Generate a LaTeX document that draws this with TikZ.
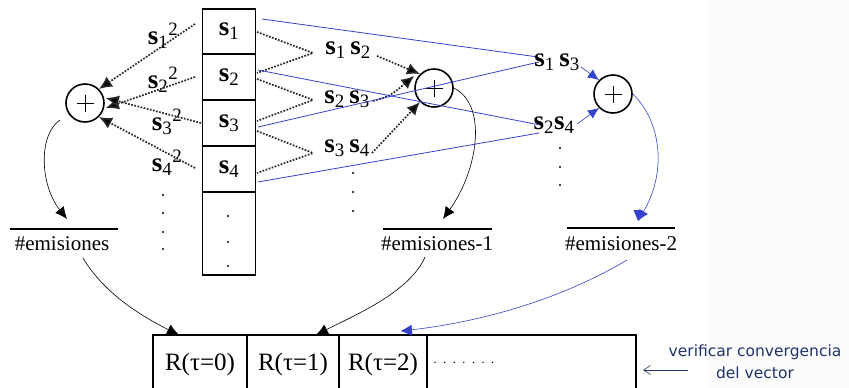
\documentclass[tikz,border=0pt]{standalone}
\usepackage{amsmath}
\usepackage{fontspec}
\setmainfont{Liberation Serif}
\newfontfamily\notefont{DejaVu Sans}
\usetikzlibrary{arrows.meta}
\definecolor{lblue}{RGB}{52,66,204}
\definecolor{navy}{RGB}{30,52,105}
\newcommand{\sv}[1]{$\textbf{s}_{\text{#1}}$}
\newcommand{\sq}[1]{$\textbf{s}_{\text{#1}}{}^{\text{2}}$}
\begin{document}
\begin{tikzpicture}[x=1pt,y=-1pt,
  cell/.style={draw,line width=1.8pt,minimum width=53pt,inner sep=0pt},
  slab/.style={font=\fontsize{27}{30}\selectfont,inner sep=0pt},
  sumnode/.style={draw,circle,line width=1.6pt,minimum size=38pt,inner sep=0pt},
  dotline/.style={line width=1.7pt,dash pattern=on 1.7pt off 1.5pt,draw=black!85},
  blk/.style={-{Latex[length=12pt,width=11pt]},line width=0.6pt},
  dblk/.style={-{Latex[length=13pt,width=12pt,fill=black]}},
  blu/.style={-{Latex[length=11pt,width=10pt]},line width=0.6pt,draw=lblue,fill=lblue},
  bluln/.style={draw=lblue,line width=0.8pt},
  frac/.style={font=\fontsize{21}{24}\selectfont,inner sep=0pt},
  rtxt/.style={font=\fontsize{25}{28}\selectfont,inner sep=0pt},
  dotpt/.style={fill=black,circle,inner sep=0pt,minimum size=2.4pt}]
\clip (0,0) rectangle (849,388);
\fill[gray!2] (707,0) rectangle (849,388);

% vector cells
\node[cell,minimum height=45pt,slab] (c1) at (229,31.5) {\sv{1}};
\node[cell,minimum height=46pt,slab] (c2) at (229,77) {\sv{2}};
\node[cell,minimum height=46pt,slab] (c3) at (229,123) {\sv{3}};
\node[cell,minimum height=46pt,slab] (c4) at (229,169) {\sv{4}};
\node[cell,minimum height=83pt] (c5) at (229,233.5) {};
\foreach \y in {216,242,266} \node[dotpt] at (228,\y) {};

% sum nodes
\node[sumnode] (p1) at (85,103) {};
\node[sumnode] (p2) at (434,88) {};
\node[sumnode] (p3) at (613,94) {};
\foreach \p in {p1,p2,p3} {
  \draw[line width=0.7pt] ([xshift=-8.5pt]\p.center) -- ([xshift=8.5pt]\p.center);
  \draw[line width=0.7pt] ([yshift=-8.5pt]\p.center) -- ([yshift=8.5pt]\p.center);
}

% squares labels
\node[slab] (q1) at (163,36) {\sq{1}};
\node[slab] (q2) at (163,80) {\sq{2}};
\node[slab] (q3) at (167,122) {\sq{3}};
\node[slab] (q4) at (167,163) {\sq{4}};

% squares arrows
\coordinate (a1) at (195,24);
\coordinate (a2) at (195,77);
\coordinate (a3) at (201,123);
\coordinate (a4) at (195,168);
\draw[dotline,dblk] (a1) -- (p1.north east);
\draw[dotline,dblk] (a2) -- ([shift={(1pt,-5pt)}]p1.east);
\draw[dotline,dblk] (a3) -- ([shift={(1pt,5pt)}]p1.east);
\draw[dotline,dblk] (a4) -- (p1.south east);

% products (zig-zag)
\coordinate (v1) at (313,53);
\coordinate (v2) at (313,100);
\coordinate (v3) at (313,153);
\coordinate (z1) at (257,32);
\coordinate (z2) at (257,73);
\coordinate (z3) at (257,79);
\coordinate (z4) at (257,121);
\coordinate (z5) at (257,131);
\coordinate (z6) at (257,173);
\draw[dotline] (z1) -- (v1) -- (z2);
\draw[dotline] (z3) -- (v2) -- (z4);
\draw[dotline] (z5) -- (v3) -- (z6);

\node[slab] (m1) at (348,50) {\sv{1}\,\sv{2}};
\node[slab] (m2) at (347,99) {\sv{2}\,\sv{3}};
\node[slab] (m3) at (347,148) {\sv{3}\,\sv{4}};
\foreach \y in {173,192,211} \node[dotpt] at (353,\y) {};

\coordinate (d1) at (377,56);
\coordinate (d2) at (373,101);
\coordinate (d3) at (372,153);
\draw[dotline,dblk] (d1) -- (p2.north west);
\draw[dotline,dblk] (d2) .. controls (390,96) .. ([shift={(0pt,12pt)}]p2.west);
\draw[dotline,dblk] (d3) -- (p2.south west);

% blue lag-2 lines
\coordinate (u1) at (262,19);
\coordinate (u2) at (258,70);
\coordinate (u3) at (258,127);
\coordinate (u4) at (258,182);
\coordinate (b1) at (538,57);
\coordinate (b2) at (539,62);
\coordinate (b3) at (540,125);
\coordinate (b4) at (539,133);
\draw[bluln] (u1) -- (b1);
\draw[bluln] (u2) -- (b3);
\draw[bluln] (u3) -- (b2);
\draw[bluln] (u4) -- (b4);

\node[slab] (r1) at (557,62) {\sv{1}\,\sv{3}};
\node[slab] (r2) at (554,125) {\sv{2}\sv{4}};
\foreach \y in {148,167,185} \node[dotpt] at (560,\y) {};
\coordinate (w1) at (581,67);
\coordinate (w2) at (577,124);
\draw[blu] (w1) -- (p3.north west);
\draw[blu] (w2) -- (p3.south west);

% fractions
\draw[line width=1.8pt] (10,229) -- (118,229);
\node[frac] (f1) at (62,244) {\#emisiones};
\draw[line width=1.8pt] (383,229) -- (492,229);
\node[frac] (f2) at (437,244) {\#emisiones-1};
\draw[line width=1.8pt] (567,228) -- (675,228);
\node[frac] (f3) at (621,244) {\#emisiones-2};

\coordinate (t1) at (67,219);
\coordinate (t2) at (443,219);
\coordinate (t3) at (638,221);
\draw[blk] (60,120) .. controls (38,135) and (40,185) .. (t1);
\draw[blk] (p2.east) .. controls (488,105) and (478,170) .. (t2);
\draw[blu,fill=none] (p3.east) .. controls (660,120) and (668,170) .. (t3);
\fill[lblue] (t3) -- ++(-4.5,-11) -- ++(9,0) -- cycle;

% left dots
\foreach \y in {195,213,232,249} \node[dotpt] at (163,\y) {};

% result vector
\draw[line width=1.5pt] (153,400) -- (153,335) -- (636,335) -- (636,400);
\foreach \x in {247,339,427} \draw[line width=1.5pt] (\x,335) -- (\x,400);
\node[rtxt] (R0) at (200,364) {R(τ=0)};
\node[rtxt] (R1) at (293,364) {R(τ=1)};
\node[rtxt] (R2) at (383,364) {R(τ=2)};
\node[font=\fontsize{14}{16}\selectfont,inner sep=0pt] (Rd) at (464,363) {$\cdot\,\cdot\,\cdot\,\cdot\,\cdot\,\cdot\,\cdot$};

\coordinate (g1) at (83,258);
\coordinate (g2) at (425,257);
\coordinate (g3) at (627,260);
\coordinate (e1) at (179,335);
\coordinate (e2) at (316,335);
\coordinate (e3) at (401,331);
\draw[blk] (g1) .. controls (105,295) and (145,318) .. (e1);
\draw[blk] (g2) .. controls (410,292) and (355,315) .. (e2);
\draw[blu,fill=none] (g3) .. controls (560,300) and (480,322) .. (e3);
\fill[lblue] (e3) -- ++(10,-5.5) -- ++(1,10) -- cycle;

% note
\node[font=\notefont\fontsize{15.5}{22}\selectfont,text=navy,align=center,inner sep=0pt] (note) at (755,362) {verificar convergencia\\del vector};
\draw[navy,line width=0.6pt,-{Straight Barb[length=7pt,width=9pt]}] (688,370) -- (643,370);
\end{tikzpicture}
\end{document}
